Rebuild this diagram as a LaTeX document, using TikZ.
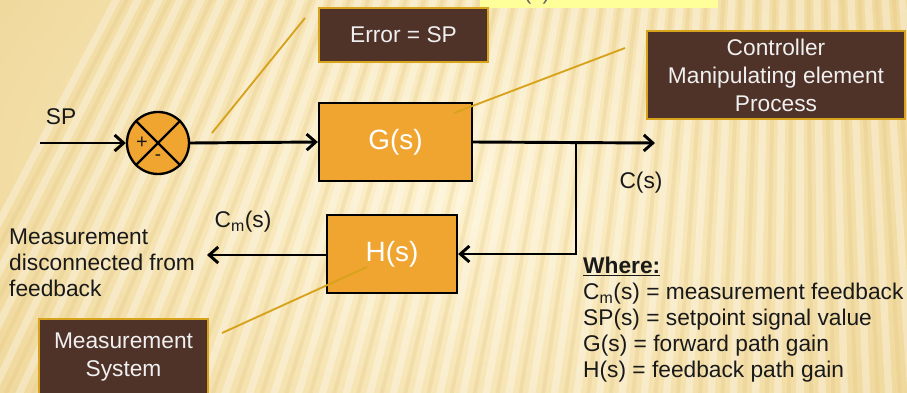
\documentclass[tikz,border=0pt]{standalone}
\usepackage{fontspec}
\setmainfont{Liberation Sans}
\usetikzlibrary{arrows.meta, positioning, calc}

\definecolor{boxorange}{HTML}{F0A531}
\definecolor{notebrown}{HTML}{4F3228}
\definecolor{notegold}{HTML}{D8A31C}
\definecolor{bglight}{HTML}{FDF1CE}
\definecolor{bgdark}{HTML}{EED595}
\definecolor{stripetan}{HTML}{E2C47E}
\definecolor{topyellow}{HTML}{FFFF99}

\begin{document}
\begin{tikzpicture}[x=0.03cm, y=-0.03cm,
  block/.style={draw=black, line width=2pt, fill=boxorange, text=white,
                font=\fontsize{23.8}{26}\selectfont, inner sep=0pt},
  note/.style={draw=notegold, line width=2pt, fill=notebrown, text=white!94!black,
               align=center, font=\fontsize{19.4}{23.8}\selectfont, inner sep=0pt},
  lbl/.style={font=\fontsize{19.4}{22.1}\selectfont, text=black!90, inner sep=0pt},
  sig/.style={-{Straight Barb[length=2.7mm, width=4.8mm]}, line width=2.5pt},
  lead/.style={draw=notegold, line width=1.6pt},
  lightstripe/.style={line width=0.22cm, white, opacity=0.32},
  darkstripe/.style={line width=0.12cm, stripetan, opacity=0.25},
]
  \useasboundingbox (0,0) rectangle (907,392);

  % ── Background: warm shading with fanned stripes ──
  \begin{scope}
    \clip (0,0) rectangle (907,392);
    \shade[inner color=bglight, outer color=bgdark] (-150,-250) rectangle (1057,642);
    \foreach \a in {84,84.75,...,118}
      \draw[lightstripe] (800,-1300) -- ++(\a:2000);
    \foreach \a in {84.375,85.125,...,118}
      \draw[darkstripe] (800,-1300) -- ++(\a:2000);
  \end{scope}

  % ── Strip at the top edge ──
  \fill[topyellow] (480,-2) rectangle (718,8);
  \node[lbl, anchor=base, text=black!60] (frag) at (537,-1) {(s)};

  % ── Loop blocks ──
  \node[circle, draw=black, line width=2pt, fill=boxorange, minimum size=1.86cm,
        inner sep=0pt] (sum) at (158,143) {};
  \draw[line width=2pt] (sum.north west) -- (sum.south east)
                        (sum.north east) -- (sum.south west);
  \node[lbl, font=\fontsize{17}{17}\selectfont] (plus)  at (142,143) {+};
  \node[lbl, font=\fontsize{16}{16}\selectfont] (minus) at (158,158) {-};

  \node[block, minimum width=4.59cm, minimum height=2.34cm] (gbox) at (395.5,142) {G(s)};
  \node[block, minimum width=3.90cm, minimum height=2.34cm] (hbox) at (392,254) {H(s)};

  % ── Signal ends ──
  \coordinate (spin) at (40,143);
  \coordinate (br)   at (576,143);
  \coordinate (cout) at (655,143);
  \coordinate (mout) at (207,255);

  % ── Signals ──
  \draw[sig] (spin) -- (sum.west);
  \draw[sig] (sum.east) -- (gbox.west);
  \draw[sig] (gbox.east) -- (cout);
  \draw[sig] (br) |- (hbox.east);
  \draw[sig] (hbox.west |- mout) -- (mout);

  \node[lbl] (splbl) at (61,117) {SP};
  \node[lbl] (cslbl) at (641,183) {C(s)};
  \node[lbl] (cmlbl) at (243,222) {C\textsubscript{m}(s)};
  \node[lbl, anchor=north west, align=left] (disc) at (9,229)
    {Measurement\\disconnected from\\feedback};

  % ── Callouts ──
  \node[note, minimum width=5.07cm, minimum height=1.62cm] (errnote) at (403.5,35) {Error = SP};
  \node[note, minimum width=7.74cm, minimum height=2.64cm] (ctrlnote) at (776,75)
    {Controller\\Manipulating element\\Process};
  \node[note, minimum width=5.07cm, minimum height=2.28cm] (measnote) at (123.5,357)
    {Measurement\\System};

  \coordinate (e1) at (212,133);  \coordinate (e2) at (305,18);
  \coordinate (c1) at (454,113);  \coordinate (c2) at (625,48);
  \coordinate (m1) at (367,267);  \coordinate (m2) at (222,333);
  \draw[lead] (e1) -- (e2);
  \draw[lead] (c1) -- (c2);
  \draw[lead] (m1) -- (m2);

  % ── Legend ──
  \node[lbl, anchor=north west, align=left] (legend) at (583,257)
    {\underline{\textbf{Where:}}\\
     C\textsubscript{m}(s) = measurement feedback\\
     SP(s) = setpoint signal value\\
     G(s) = forward path gain\\
     H(s) = feedback path gain};
\end{tikzpicture}
\end{document}
